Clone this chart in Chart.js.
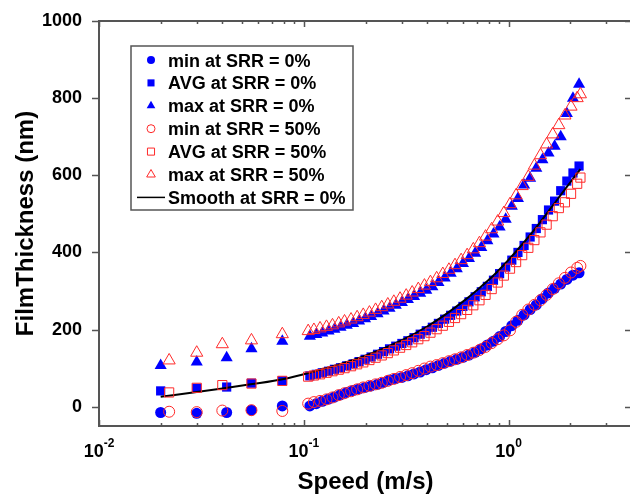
<!DOCTYPE html>
<html>
<head>
<meta charset="utf-8">
<script src="https://cdn.jsdelivr.net/npm/chart.js@4.4.1/dist/chart.umd.min.js"></script>
<style>
  html, body { margin: 0; padding: 0; overflow: hidden; background: #fff; }
  canvas { display: block; }
</style>
</head>
<body>
<canvas id="filmChart" width="640" height="497"></canvas>
<script>
// film thickness vs speed, SRR 0% (blue, filled) and SRR 50% (red, hollow)

const speedAt0 = [0.020, 0.030, 0.042, 0.0555, 0.0785,
  0.107, 0.115, 0.123, 0.132, 0.141, 0.151, 0.162, 0.174, 0.186, 0.199,
  0.213, 0.229, 0.245, 0.262, 0.281, 0.301, 0.322, 0.345, 0.370, 0.396,
  0.424, 0.454, 0.487, 0.521, 0.558, 0.598, 0.640, 0.686, 0.735, 0.787,
  0.843, 0.903, 0.967, 1.036, 1.110, 1.189, 1.273, 1.364, 1.461, 1.565,
  1.676, 1.795, 1.923, 2.060, 2.206];
const minAt0 = [-15, -17, -15, -9, 2,
  2, 8, 14, 20, 25, 31, 37, 42, 46, 50,
  54, 58, 63, 69, 73, 76, 80, 85, 90, 96,
  101, 107, 113, 118, 123, 128, 134, 141, 150, 160,
  170, 182, 195, 210, 224, 238, 252, 264, 280, 295,
  307, 318, 330, 341, 347];
const avgAt0 = [41, 48, 51, 61, 67,
  80, 84, 88, 92, 97, 101, 106, 111, 117, 123,
  129, 136, 143, 150, 157, 164, 171, 179, 188, 197,
  206, 216, 227, 237, 248, 260, 272, 285, 298, 312,
  328, 345, 362, 380, 400, 418, 440, 462, 485, 510,
  533, 560, 585, 606, 624];
const maxAt0 = [107, 116, 127, 150, 170,
  183, 187, 191, 196, 201, 206, 211, 216, 222, 228,
  234, 241, 248, 255, 263, 270, 278, 286, 294, 302,
  311, 322, 334, 346, 358, 371, 384, 398, 413, 430,
  448, 466, 486, 520, 540, 575, 592, 618, 640, 658,
  675, 700, 760, 800, 836];

const speedAt50 = [0.022, 0.030, 0.040, 0.0555, 0.0785,
  0.105, 0.112, 0.120, 0.129, 0.138, 0.148, 0.158, 0.170, 0.182, 0.195,
  0.209, 0.224, 0.240, 0.257, 0.275, 0.295, 0.316, 0.338, 0.362, 0.388,
  0.415, 0.445, 0.477, 0.511, 0.547, 0.586, 0.627, 0.672, 0.720, 0.771,
  0.826, 0.884, 0.947, 1.015, 1.087, 1.164, 1.247, 1.335, 1.430, 1.532,
  1.641, 1.757, 1.882, 2.016, 2.160, 2.240];
const minAt50 = [-13, -14, -10, -9, -11,
  8, 12, 15, 19, 24, 30, 35, 40, 45, 50,
  54, 58, 62, 67, 72, 77, 82, 87, 93, 99,
  104, 108, 113, 118, 123, 128, 134, 140, 147, 155,
  165, 175, 185, 198, 220, 238, 252, 264, 276, 290,
  305, 320, 334, 348, 360, 365];
const avgAt50 = [37, 49, 56, 60, 67,
  78, 81, 84, 88, 92, 96, 100, 105, 110, 115,
  121, 127, 133, 139, 146, 153, 160, 167, 175, 183,
  192, 201, 210, 220, 230, 240, 251, 263, 276, 290,
  305, 322, 340, 358, 375, 393, 412, 432, 452, 472,
  494, 515, 530, 552, 578, 594];
const maxAt50 = [120, 140, 162, 172, 188,
  196, 199, 203, 207, 211, 216, 221, 226, 232, 238,
  244, 251, 258, 265, 272, 280, 288, 296, 305, 314,
  323, 333, 344, 355, 367, 380, 393, 408, 424, 441,
  460, 480, 502, 525, 548, 572, 596, 625, 652, 680,
  706, 730, 755, 778, 800, 810];

const smoothSpeed = [0.02, 0.03, 0.04, 0.055, 0.08, 0.11, 0.15, 0.2, 0.3, 0.4,
  0.5, 0.6, 0.7, 0.85, 1.0, 1.2, 1.4, 1.7, 2.0, 2.24];
const smoothFilm = [26, 38, 47, 58, 72, 90, 110, 132, 172, 208,
  242, 273, 302, 342, 381, 429, 473, 532, 582, 616];

const yTicks = [0, 200, 400, 600, 800, 1000];
const xDecades = [0.01, 0.1, 1];
const xExponents = ['-2', '-1', '0'];
const xMinorSteps = [2, 3, 4, 5, 6, 7, 8, 9];

const FONT = "'Liberation Sans', Arial, sans-serif";
const BLUE = '#0000ff';
const RED = '#ff2a2a';

const pts = (xs, ys) => xs.map((x, i) => ({ x, y: ys[i] }));

const filled = (label, xs, ys, style, r) => ({
  label, data: pts(xs, ys), order: 3,
  pointStyle: style, pointRadius: r, pointHoverRadius: r,
  pointBackgroundColor: BLUE, pointBorderColor: BLUE, pointBorderWidth: 0
});
const hollow = (label, xs, ys, style, r) => ({
  label, data: pts(xs, ys), order: 1,
  pointStyle: style, pointRadius: r, pointHoverRadius: r,
  pointBackgroundColor: 'rgba(0,0,0,0)', pointBorderColor: RED, pointBorderWidth: 1
});

// frame, inward/outward ticks and 10^n labels
const framePlugin = {
  id: 'frame',
  afterDatasetsDraw(chart) {
    const { ctx, chartArea: a, scales: { x, y } } = chart;
    ctx.save();
    ctx.strokeStyle = '#555';
    ctx.lineWidth = 2;
    ctx.strokeRect(a.left, a.top, a.right - a.left, a.bottom - a.top);
    ctx.lineWidth = 1.5;
    ctx.beginPath();
    xDecades.forEach(d => {
      [1].concat(xMinorSteps).forEach(m => {
        const v = d * m;
        if (v > x.max) return;
        const px = Math.round(x.getPixelForValue(v)) + 0.5;
        const len = m === 1 ? 6 : 3;
        ctx.moveTo(px, a.bottom); ctx.lineTo(px, a.bottom - len);
        ctx.moveTo(px, a.top); ctx.lineTo(px, a.top + len);
      });
    });
    yTicks.forEach(v => {
      const py = Math.round(y.getPixelForValue(v)) + 0.5;
      ctx.moveTo(a.left - 7, py); ctx.lineTo(a.left, py);
      ctx.moveTo(a.right - 7, py); ctx.lineTo(a.right, py);
    });
    ctx.stroke();

    ctx.fillStyle = '#000';
    ctx.textBaseline = 'alphabetic';
    xDecades.forEach((d, i) => {
      const px = x.getPixelForValue(d);
      ctx.font = 'bold 18px ' + FONT;
      const wb = ctx.measureText('10').width;
      ctx.font = 'bold 12px ' + FONT;
      const we = ctx.measureText(xExponents[i]).width;
      const left = px - (wb + we) / 2;
      ctx.font = 'bold 18px ' + FONT;
      ctx.textAlign = 'left';
      ctx.fillText('10', left, 457);
      ctx.font = 'bold 12px ' + FONT;
      ctx.fillText(xExponents[i], left + wb, 447);
    });
    ctx.restore();
  }
};

// boxed legend in the upper left of the plot
const legendPlugin = {
  id: 'boxLegend',
  afterDraw(chart) {
    const { ctx } = chart;
    const bx = 131, by = 46, bw = 222, bh = 164, rowH = 22.9;
    ctx.save();
    ctx.fillStyle = '#fff';
    ctx.fillRect(bx, by, bw, bh);
    ctx.strokeStyle = '#555';
    ctx.lineWidth = 1.5;
    ctx.strokeRect(bx, by, bw, bh);
    chart.data.datasets.forEach((ds, i) => {
      const cy = 60 + i * rowH;
      if (ds.showLine) {
        ctx.strokeStyle = ds.borderColor;
        ctx.lineWidth = 1.5;
        ctx.beginPath(); ctx.moveTo(137, cy); ctx.lineTo(165, cy); ctx.stroke();
      } else {
        ctx.fillStyle = ds.pointBackgroundColor;
        ctx.strokeStyle = ds.pointBorderColor;
        ctx.lineWidth = ds.pointBorderWidth;
        Chart.helpers.drawPoint(ctx, {
          pointStyle: ds.pointStyle, rotation: 0,
          radius: ds.pointStyle === 'circle' ? 4 : 5,
          borderWidth: ds.pointBorderWidth
        }, 151, cy);
      }
      ctx.fillStyle = '#000';
      ctx.font = 'bold 18px ' + FONT;
      ctx.textAlign = 'left';
      ctx.textBaseline = 'alphabetic';
      ctx.fillText(ds.label, 168, cy + 6.5);
    });
    ctx.restore();
  }
};

new Chart(document.getElementById('filmChart'), {
  type: 'scatter',
  data: {
    datasets: [
      filled('min at SRR = 0%', speedAt0, minAt0, 'circle', 5.5),
      filled('AVG at SRR = 0%', speedAt0, avgAt0, 'rect', 6.5),
      filled('max at SRR = 0%', speedAt0, maxAt0, 'triangle', 7),
      hollow('min at SRR = 50%', speedAt50, minAt50, 'circle', 5.5),
      hollow('AVG at SRR = 50%', speedAt50, avgAt50, 'rect', 6.5),
      hollow('max at SRR = 50%', speedAt50, maxAt50, 'triangle', 7),
      { label: 'Smooth at SRR = 0%', data: pts(smoothSpeed, smoothFilm), order: 2,
        showLine: true, borderColor: '#000', borderWidth: 2, pointRadius: 0,
        cubicInterpolationMode: 'monotone' }
    ]
  },
  options: {
    responsive: false, animation: false,
    layout: { padding: { top: 21, right: 4, left: 0, bottom: 0 } },
    plugins: { legend: { display: false }, tooltip: { enabled: false } },
    scales: {
      x: {
        type: 'logarithmic', min: 0.01, max: 4,
        afterFit: s => { s.height = 71; },
        grid: { display: false }, border: { display: false },
        ticks: { display: false },
        title: { display: true, text: 'Speed (m/s)', color: '#000', padding: 0,
          font: { family: FONT, size: 24, weight: 'bold' } }
      },
      y: {
        min: -50, max: 1000,
        afterBuildTicks: s => { s.ticks = yTicks.map(v => ({ value: v })); },
        afterFit: s => { s.width = 99; },
        grid: { display: false }, border: { display: false },
        ticks: { color: '#000', padding: 9, callback: v => String(v),
          font: { family: FONT, size: 18, weight: 'bold' } },
        title: { display: true, text: 'FilmThickness (nm)', color: '#000',
          padding: { top: 12, bottom: 0 },
          font: { family: FONT, size: 24, weight: 'bold' } }
      }
    }
  },
  plugins: [framePlugin, legendPlugin]
});
</script>
</body>
</html>
